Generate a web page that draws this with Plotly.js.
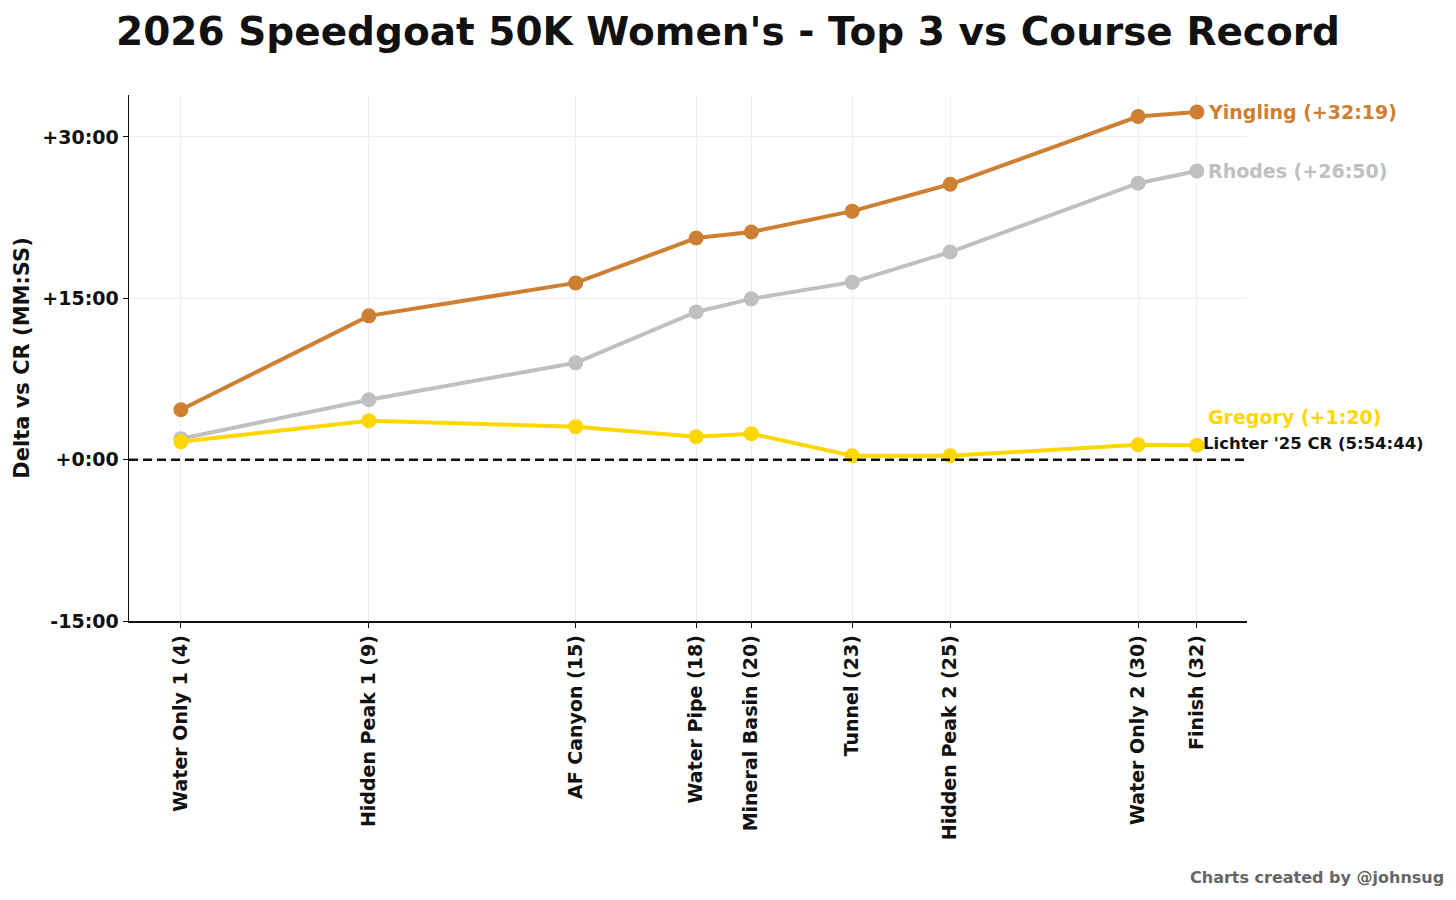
<!DOCTYPE html>
<html>
<head>
<meta charset="utf-8">
<script src="https://cdn.plot.ly/plotly-3.0.1.min.js"></script>
<style>
  html, body { margin: 0; padding: 0; background: #fff; }
  #chart { width: 1456px; height: 900px; }
</style>
</head>
<body>
<div id="chart"></div>
<script>
// checkpoints and their position along the course (miles)
const checkpoints = ['Water Only 1 (4)', 'Hidden Peak 1 (9)', 'AF Canyon (15)', 'Water Pipe (18)',
    'Mineral Basin (20)', 'Tunnel (23)', 'Hidden Peak 2 (25)', 'Water Only 2 (30)', 'Finish (32)'];
const miles = [4.0, 9.18, 14.88, 18.2, 19.72, 22.5, 25.2, 30.38, 32.0];

// delta vs course record split, in seconds
const yingling = [278, 802, 986, 1236, 1270, 1386, 1536, 1914, 1939];
const rhodes   = [117, 334, 540, 824, 897, 990, 1158, 1542, 1610];
const gregory  = [100, 217, 184, 128, 145, 22, 22, 83, 80];

const yTicks = [-15, 0, 15, 30];

const FONT = '"DejaVu Sans", "Noto Sans", sans-serif';

function fmtDelta(sec) {
    const sign = sec < 0 ? '-' : '+';
    const s = Math.abs(Math.round(sec));
    const m = Math.floor(s / 60);
    const r = s % 60;
    return sign + m + ':' + String(r).padStart(2, '0');
}

const toMin = arr => arr.map(v => v / 60);

function runner(name, vals, color) {
    return {
        type: 'scatter', mode: 'lines+markers', name: name,
        x: miles, y: toMin(vals),
        line: { color: color, width: 4 },
        marker: { color: color, size: 15 },
        hoverinfo: 'skip'
    };
}

const traces = [
    runner('Rhodes', rhodes, '#C0C0C0'),
    runner('Gregory', gregory, '#FFD700'),
    runner('Yingling', yingling, '#CD7F32')
];

const last = miles.length - 1;
function endLabel(name, vals, color, yshift) {
    return {
        x: miles[last], y: vals[last] / 60, xref: 'x', yref: 'y',
        text: name + ' (' + fmtDelta(vals[last]) + ')',
        showarrow: false, xanchor: 'left', yanchor: 'middle',
        xshift: 9, yshift: yshift,
        font: { family: FONT, size: 19, color: color, weight: 700 }
    };
}

const layout = {
    width: 1456, height: 900,
    paper_bgcolor: '#fff', plot_bgcolor: '#fff',
    margin: { l: 129, r: 209, t: 95, b: 279 },
    showlegend: false,
    font: { family: FONT, color: '#111' },
    title: {
        text: "2026 Speedgoat 50K Women's - Top 3 vs Course Record",
        x: 0.5, xref: 'container', xanchor: 'center',
        y: 1 - 31 / 900, yref: 'container', yanchor: 'middle',
        font: { family: FONT, size: 39, color: '#111', weight: 700 }
    },
    xaxis: {
        range: [2.57, 33.38],
        tickmode: 'array', tickvals: miles, ticktext: checkpoints,
        tickangle: -90,
        tickfont: { family: FONT, size: 19, color: '#111', weight: 700 },
        showgrid: true, gridcolor: '#eeeeee', gridwidth: 1,
        showline: true, linecolor: '#111', linewidth: 1.5,
        ticks: 'outside', ticklen: 5, tickcolor: '#111',
        zeroline: false
    },
    yaxis: {
        range: [-15, 33.9],
        tickmode: 'array', tickvals: yTicks, ticktext: yTicks.map(v => fmtDelta(v * 60)),
        tickfont: { family: FONT, size: 19, color: '#111', weight: 700 },
        showgrid: true, gridcolor: '#eeeeee', gridwidth: 1,
        showline: true, linecolor: '#111', linewidth: 1.5,
        ticks: 'outside', ticklen: 5, tickcolor: '#111',
        zeroline: false,
        title: { text: 'Delta vs CR (MM:SS)', standoff: 7,
            font: { family: FONT, size: 21, color: '#111', weight: 700 } }
    },
    shapes: [{
        type: 'line', xref: 'paper', yref: 'y', x0: 0, x1: 1, y0: 0, y1: 0,
        line: { color: '#111', width: 2.5, dash: '9px,5px' }, layer: 'above'
    }],
    annotations: [
        endLabel('Yingling', yingling, '#CD7F32', 0),
        endLabel('Rhodes', rhodes, '#C0C0C0', 0),
        endLabel('Gregory', gregory, '#FFD700', 28),
        {
            x: miles[last], y: 0, xref: 'x', yref: 'y',
            text: "Lichter '25 CR (5:54:44)",
            showarrow: false, xanchor: 'left', yanchor: 'middle',
            xshift: 4, yshift: 16,
            font: { family: FONT, size: 16.5, color: '#111', weight: 600 }
        },
        {
            x: (1446 - 129) / 1118, y: -(889 - 621) / 526, xref: 'paper', yref: 'paper',
            text: 'Charts created by @johnsug',
            showarrow: false, xanchor: 'right', yanchor: 'bottom',
            font: { family: FONT, size: 16, color: '#666', weight: 700 }
        }
    ]
};

Plotly.newPlot('chart', traces, layout, { displayModeBar: false, staticPlot: true });
</script>
</body>
</html>
